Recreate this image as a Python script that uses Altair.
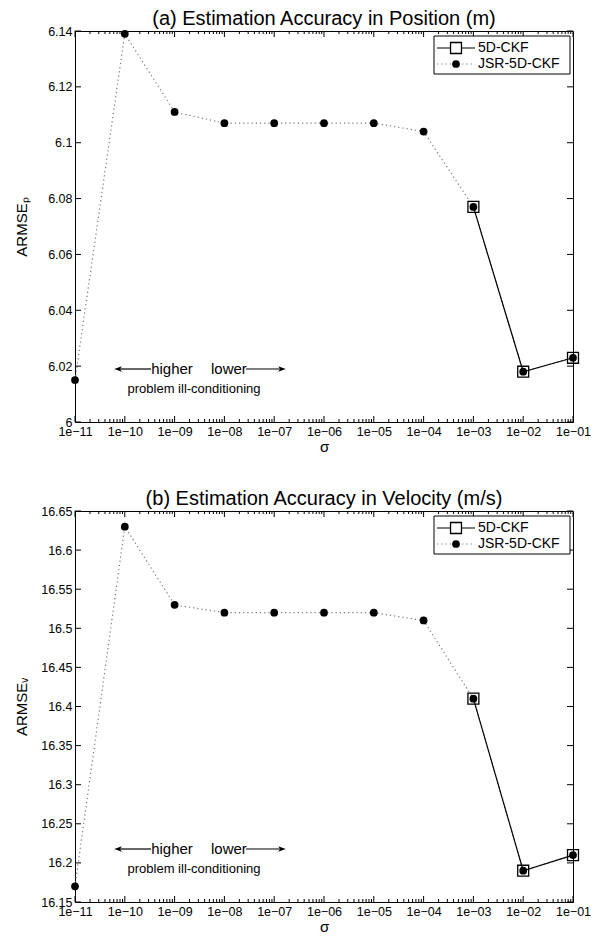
import altair as alt
import pandas as pd
import numpy as np

# ---------------- data ----------------
sigma = [1e-11, 1e-10, 1e-09, 1e-08, 1e-07, 1e-06, 1e-05, 1e-04, 1e-03, 1e-02, 1e-01]
sigma_labels = ["1e−11", "1e−10", "1e−09", "1e−08", "1e−07", "1e−06",
                "1e−05", "1e−04", "1e−03", "1e−02", "1e−01"]

pos_jsr = [6.015, 6.139, 6.111, 6.107, 6.107, 6.107, 6.107, 6.104, 6.077, 6.018, 6.023]
pos_ckf_sigma = [1e-03, 1e-02, 1e-01]
pos_ckf = [6.077, 6.018, 6.023]

vel_jsr = [16.17, 16.63, 16.53, 16.52, 16.52, 16.52, 16.52, 16.51, 16.41, 16.19, 16.21]
vel_ckf_sigma = [1e-03, 1e-02, 1e-01]
vel_ckf = [16.41, 16.19, 16.21]

pos_ticks = [6.0, 6.02, 6.04, 6.06, 6.08, 6.1, 6.12, 6.14]
vel_ticks = [16.15, 16.2, 16.25, 16.3, 16.35, 16.4, 16.45, 16.5, 16.55, 16.6, 16.65]

series_names = ["5D-CKF", "JSR-5D-CKF"]

# ---------------- layout constants ----------------
W, H = 498, 391
FONT = "Liberation Sans"

label_expr = "[" + ",".join("'%s'" % s for s in sigma_labels) + "][round(log(datum.value)/LN10) + 11]"

minor = [k * 10.0 ** d for d in range(-11, -1) for k in range(2, 10)]


def panel(title, ytitle, ydom, yticks, jsr, ckf_x, ckf_y):
    df = pd.DataFrame({"sigma": sigma, "v": jsr})
    dfc = pd.DataFrame({"sigma": ckf_x, "v": ckf_y})

    xs = alt.Scale(type="log", domain=[1e-11, 1e-1], nice=False)
    ys = alt.Scale(domain=ydom, nice=False, zero=False)

    X = alt.X("sigma:Q", scale=xs,
              axis=alt.Axis(values=sigma, labelExpr=label_expr, title="σ",
                            tickCount=len(sigma) + 2))
    Y = alt.Y("v:Q", scale=ys,
              axis=alt.Axis(values=yticks, format=".4~g", title=ytitle, titleX=-46,
                            tickCount=len(yticks) + 2))
    Xn = alt.X("sigma:Q", scale=xs)
    Yn = alt.Y("v:Q", scale=ys)

    base = alt.Chart(df)
    jsr_line = base.mark_line(strokeDash=[1.2, 3], color="#777777", strokeWidth=1.2).encode(x=X, y=Y)
    ckf_line = alt.Chart(dfc).mark_line(color="black", strokeWidth=1.2).encode(x=Xn, y=Yn)
    ckf_pts = alt.Chart(dfc).mark_point(shape="square", size=120, filled=False,
                                        color="black", strokeWidth=1.3, opacity=1).encode(x=Xn, y=Yn)
    jsr_pts = base.mark_circle(size=60, color="black", opacity=1).encode(x=Xn, y=Yn)

    # inward ticks (MATLAB style)
    tmaj = pd.DataFrame({"sigma": sigma})
    tmin = pd.DataFrame({"sigma": minor})
    tyy = pd.DataFrame({"v": yticks})
    ticks = [
        alt.Chart(tmaj).mark_rule(color="black", strokeWidth=1).encode(x=Xn, y=alt.value(H), y2=alt.value(H - 6)),
        alt.Chart(tmaj).mark_rule(color="black", strokeWidth=1).encode(x=Xn, y=alt.value(0), y2=alt.value(6)),
        alt.Chart(tmin).mark_rule(color="black", strokeWidth=1).encode(x=Xn, y=alt.value(H), y2=alt.value(H - 3)),
        alt.Chart(tmin).mark_rule(color="black", strokeWidth=1).encode(x=Xn, y=alt.value(0), y2=alt.value(3)),
        alt.Chart(tyy).mark_rule(color="black", strokeWidth=1).encode(y=Yn, x=alt.value(0), x2=alt.value(6)),
        alt.Chart(tyy).mark_rule(color="black", strokeWidth=1).encode(y=Yn, x=alt.value(W), x2=alt.value(W - 6)),
    ]

    # annotation: <-- higher   lower -->  / problem ill-conditioning
    ya = H - 53
    yb = H - 33
    arr = pd.DataFrame({"sigma": [10 ** -10.116, 10 ** -7.566], "sigma2": [10 ** -9.474, 10 ** -6.863]})
    headL = pd.DataFrame({"sigma": [10 ** -10.116]})
    headR = pd.DataFrame({"sigma": [10 ** -6.863]})
    words = pd.DataFrame({"sigma": [10 ** -9.052, 10 ** -7.91], "t": ["higher", "lower"]})
    note = pd.DataFrame({"sigma": [10 ** -8.61], "t": ["problem ill-conditioning"]})
    ann = [
        alt.Chart(arr).mark_rule(color="black", strokeWidth=1.2).encode(
            x=Xn, x2="sigma2:Q", y=alt.value(ya)),
        alt.Chart(headL).mark_point(
            shape="M-1,0L0.6,-0.6L0.2,0L0.6,0.6Z", filled=True, color="black", size=90, opacity=1
        ).encode(x=Xn, y=alt.value(ya)),
        alt.Chart(headR).mark_point(
            shape="M1,0L-0.6,-0.6L-0.2,0L-0.6,0.6Z", filled=True, color="black", size=90, opacity=1
        ).encode(x=Xn, y=alt.value(ya)),
        alt.Chart(words).mark_text(font=FONT, fontSize=15, color="black", baseline="middle").encode(
            x=Xn, y=alt.value(ya), text="t:N"),
        alt.Chart(note).mark_text(font=FONT, fontSize=13, color="black", baseline="middle").encode(
            x=Xn, y=alt.value(yb), text="t:N"),
    ]

    # legend box (top-right)
    one = pd.DataFrame({"a": [0]})
    lx0, lx1, ly0, ly1 = W - 139, W - 3, 5, 43
    r1, r2 = 17, 33
    mx = lx0 + 22
    leg = [
        alt.Chart(one).mark_rect(fill="white", stroke="black", strokeWidth=1).encode(
            x=alt.value(lx0), x2=alt.value(lx1), y=alt.value(ly0), y2=alt.value(ly1)),
        alt.Chart(one).mark_rule(color="black", strokeWidth=1.2).encode(
            x=alt.value(lx0 + 3), x2=alt.value(lx0 + 41), y=alt.value(r1)),
        alt.Chart(one).mark_point(shape="square", size=120, filled=True, fill="white",
                                  stroke="black", strokeWidth=1.3, opacity=1).encode(
            x=alt.value(mx), y=alt.value(r1)),
        alt.Chart(one).mark_rule(color="#777777", strokeWidth=1.2, strokeDash=[1.2, 3]).encode(
            x=alt.value(lx0 + 3), x2=alt.value(lx0 + 41), y=alt.value(r2)),
        alt.Chart(one).mark_circle(size=60, color="black", opacity=1).encode(
            x=alt.value(mx), y=alt.value(r2)),
        alt.Chart(one).mark_text(font=FONT, fontSize=14, align="left", baseline="middle", color="black").encode(
            x=alt.value(lx0 + 44), y=alt.value(r1), text=alt.value(series_names[0])),
        alt.Chart(one).mark_text(font=FONT, fontSize=14, align="left", baseline="middle", color="black").encode(
            x=alt.value(lx0 + 44), y=alt.value(r2), text=alt.value(series_names[1])),
    ]

    return alt.layer(jsr_line, ckf_line, ckf_pts, jsr_pts, *ticks, *ann, *leg).properties(
        width=W, height=H,
        title=alt.TitleParams(title, font=FONT, fontSize=20, fontWeight="normal", color="black",
                              anchor="middle", offset=-4),
    )


pa = panel("(a) Estimation Accuracy in Position (m)", "ARMSEₚ", [6.0, 6.14], pos_ticks,
           pos_jsr, pos_ckf_sigma, pos_ckf)
pb = panel("(b) Estimation Accuracy in Velocity (m/s)", "ARMSEᵥ", [16.15, 16.65], vel_ticks,
           vel_jsr, vel_ckf_sigma, vel_ckf)

chart = alt.vconcat(pa, pb, spacing=33).properties(
    padding={"left": 5, "top": 0, "right": 5, "bottom": 0},
    background="white",
).configure_view(
    stroke="black", strokeWidth=1
).configure_axis(
    ticks=False, grid=False, labelFlush=False, labelOverlap=False,
    labelPadding=3, titlePadding=2,
    domainColor="black", domainWidth=1, labelColor="black", titleColor="black",
    labelFont=FONT, titleFont=FONT, labelFontSize=12.5, titleFontSize=15,
    titleFontWeight="normal"
)

chart.save("out.html", embed_options={"renderer": "svg", "actions": False})
